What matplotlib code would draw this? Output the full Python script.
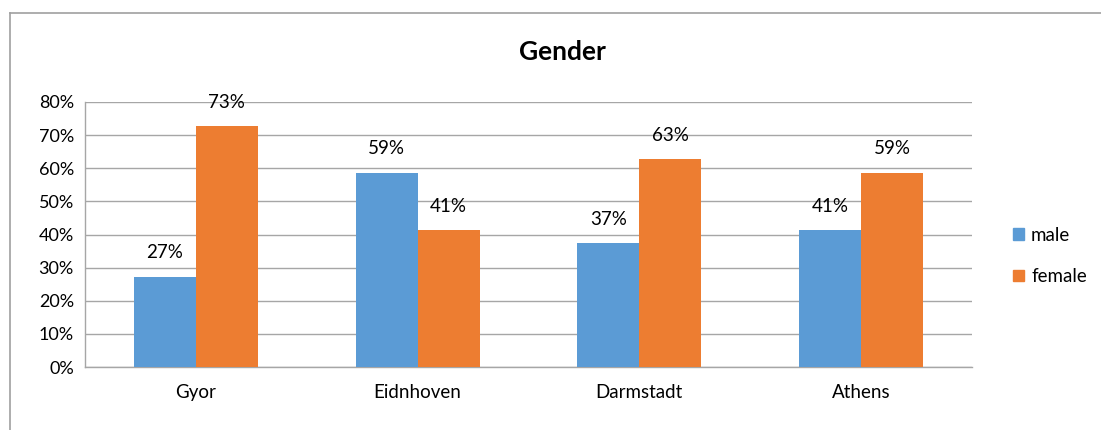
import matplotlib.pyplot as plt
import numpy as np
from matplotlib.lines import Line2D
from matplotlib.patches import Patch

plt.rcParams["font.family"] = ["Lato", "DejaVu Sans"]

cities = ["Gyor", "Eidnhoven", "Darmstadt", "Athens"]
male = [0.273, 0.587, 0.373, 0.413]
female = [0.727, 0.413, 0.627, 0.587]
series = ["male", "female"]
colors = ["#5B9BD5", "#ED7D31"]

fig = plt.figure(figsize=(11.01, 4.30), dpi=100)
ax = fig.add_axes([0.0772, 0.1465, 0.8056, 0.6163])

x = np.arange(len(cities))
w = 0.28
grid_c = "#A6A6A6"

for vals, off, col, name in zip([male, female], [-w / 2, w / 2], colors, series):
    bars = ax.bar(x + off, vals, width=w, color=col, label=name, zorder=3)
    for b, v in zip(bars, vals):
        ax.text(b.get_x() + b.get_width() / 2, v + 0.072, f"{v:.0%}",
                ha="center", va="center", fontsize=13.5, color="#000000")

ax.set_xlim(-0.5, len(cities) - 0.5)
ax.set_ylim(0, 0.8)
ticks = np.arange(0, 0.81, 0.1)
ax.set_yticks(ticks)
ax.set_yticklabels([f"{int(round(t * 100))}%" for t in ticks])
ax.set_xticks(x)
ax.set_xticklabels(cities)
ax.tick_params(axis="both", length=0, labelsize=13, colors="#000000")
ax.tick_params(axis="x", labelsize=13.5, pad=12)
ax.tick_params(axis="y", pad=8)
ax.grid(axis="y", color=grid_c, linewidth=1, zorder=0)
for s in ["top", "right"]:
    ax.spines[s].set_visible(False)
for s in ["left", "bottom"]:
    ax.spines[s].set_color(grid_c)
    ax.spines[s].set_linewidth(1)

fig.text(0.511, 0.879, "Gender", ha="center", va="center",
         fontsize=19, fontweight="bold")

handles = [Patch(color=c) for c in colors]
fig.legend(handles, series, loc="center left", bbox_to_anchor=(0.905, 0.405),
           frameon=False, fontsize=13.5, handlelength=0.55, handleheight=0.55,
           handletextpad=0.4, labelspacing=1.3)

# chart frame, running off the right and bottom edges
fig.add_artist(Line2D([0.0095, 0.0095], [-0.05, 0.97], color="#A0A0A0", lw=1.2))
fig.add_artist(Line2D([0.0095, 1.05], [0.97, 0.97], color="#A0A0A0", lw=1.2))

fig.savefig("out.png", dpi=100)
